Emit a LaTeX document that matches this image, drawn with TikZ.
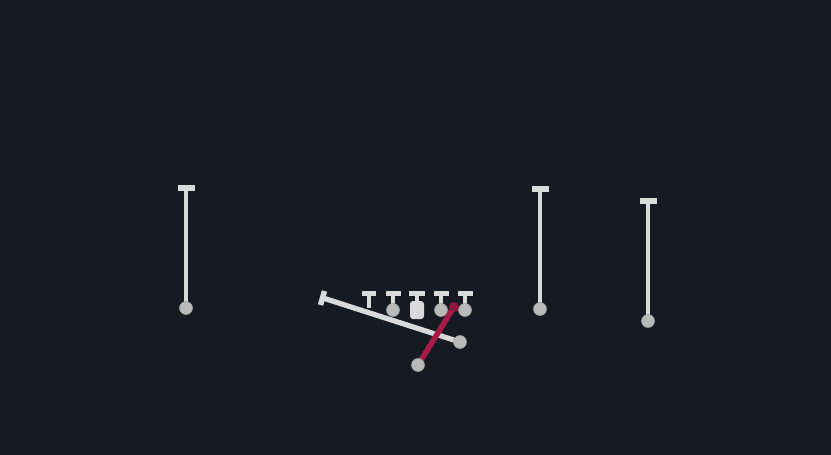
\documentclass[tikz,border=0pt]{standalone}
\definecolor{bgcol}{HTML}{161A22}
\definecolor{shaftcol}{HTML}{DADADA}
\definecolor{ballcol}{HTML}{BABABA}
\definecolor{redcol}{HTML}{A61C46}
\tikzset{
  shaft/.style={draw=shaftcol, line width=4.6pt},
  capbar/.style={draw=shaftcol, line width=5.5pt},
  ball/.style={fill=ballcol, draw=ballcol!85!black, line width=0.6pt},
  redbar/.style={draw=redcol, line width=5.5pt, line cap=round}
}
\begin{document}
\begin{tikzpicture}[x=1pt,y=-1pt]
\fill[bgcol] (0,0) rectangle (831,455);
\useasboundingbox (0,0) rectangle (831,455);
% tall pins
\foreach \n/\x/\t/\b in {pa/186/188/308, pb/540/189/309, pc/648/201/321}{
  \coordinate (\n top) at (\x,\t);
  \coordinate (\n bot) at (\x,\b);
  \draw[shaft] (\n top) -- (\n bot);
  \draw[capbar] ([xshift=-8.5pt]\n top) -- ([xshift=8.5pt]\n top);
  \fill[ball] (\n bot) circle (6.5);
}
% long tilted bar
\coordinate (lbA) at (323,298);
\coordinate (lbB) at (460,342);
\draw[shaft, line width=5.2pt] (lbA) -- (lbB);
\draw[capbar] (324.5,291) -- (320.5,305);
\fill[ball] (lbB) circle (6.5);
% small pins
\coordinate (s1) at (369,293.5);
\draw[shaft] (s1) -- (369,308);
\draw[capbar] (362,293.5) -- (376,293.5);
\foreach \n/\x in {s2/393, s4/441, s5/465}{
  \coordinate (\n) at (\x,293.5);
  \coordinate (\n b) at (\x,310);
  \draw[shaft] (\n) -- (\n b);
  \draw[capbar] ([xshift=-7.5pt]\n) -- ([xshift=7.5pt]\n);
  \fill[ball] (\n b) circle (6.5);
}
\coordinate (s3) at (417,293.5);
\draw[shaft] (s3) -- (417,303);
\draw[capbar] (409,293.5) -- (425,293.5);
\fill[shaftcol, rounded corners=3pt] (410,301) rectangle (424,319);
% red bar
\coordinate (rA) at (454,307);
\coordinate (rB) at (418,365);
\draw[redbar] (rA) -- (rB);
\fill[redcol!85!black] (rA) circle (5);
\fill[ball] (rB) circle (6.5);
\end{tikzpicture}
\end{document}
